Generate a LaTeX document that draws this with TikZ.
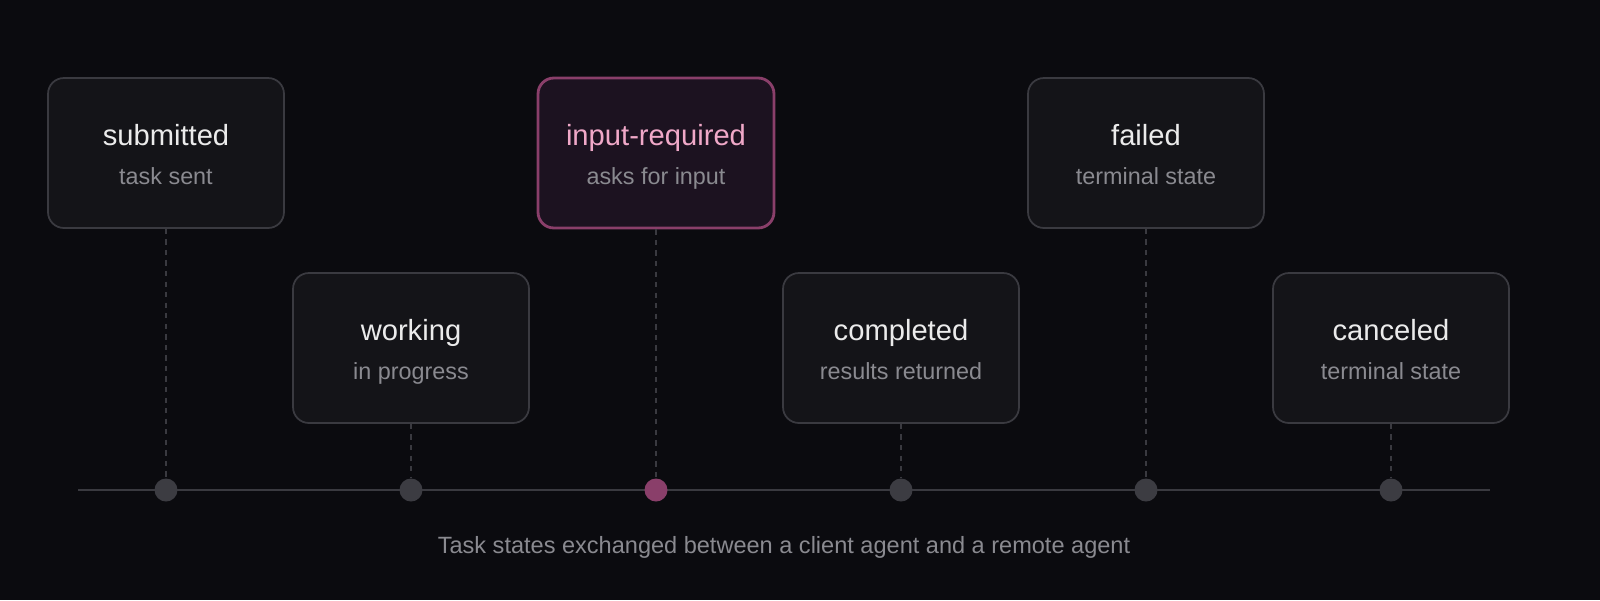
\documentclass[tikz,border=0pt]{standalone}
\usepackage{fontspec}
\setmainfont{Liberation Sans}
\usetikzlibrary{calc}

\definecolor{bg}{HTML}{0B0B0F}
\definecolor{boxfill}{HTML}{141418}
\definecolor{boxline}{HTML}{3A3A40}
\definecolor{hlfill}{HTML}{1C1220}
\definecolor{hlline}{HTML}{8A3F6A}
\definecolor{hltext}{HTML}{F0A8C8}
\definecolor{subtext}{HTML}{8A8A90}
\definecolor{dotgray}{HTML}{3C3C42}

\tikzset{
  state/.style={draw=boxline, line width=1pt, fill=boxfill, rounded corners=9pt,
    minimum width=4.72cm, minimum height=3cm},
  active/.style={state, draw=hlline, line width=1.6pt, fill=hlfill},
  title/.style={anchor=base, text=white!92!black, font=\fontsize{16.6}{18}\selectfont},
  sub/.style={anchor=base, text=subtext, font=\fontsize{13.3}{15}\selectfont},
  stem/.style={draw=boxline, dashed, line width=0.7pt},
  dot/.style={circle, fill=dotgray, minimum size=0.46cm, inner sep=0pt}
}

\begin{document}
\begin{tikzpicture}[x=0.02cm, y=-0.02cm]
  \fill[bg] (0,0) rectangle (1600,600);
  \useasboundingbox (0,0) rectangle (1600,600);

  % timeline
  \coordinate (tl) at (78,490);
  \coordinate (tr) at (1490,490);
  \draw[boxline, line width=1pt] (tl) -- (tr);

  % states
  \foreach \name/\x/\y/\ttl/\txt in {
      submitted/166/153/submitted/task sent,
      working/411/348/working/in progress,
      completed/901/348/completed/results returned,
      failed/1146/153/failed/terminal state,
      canceled/1391/348/canceled/terminal state} {
    \node[state] (\name) at (\x,\y) {};
    \node[dot] (\name-dot) at (\x,490) {};
    \draw[stem] (\name.south) -- (\name-dot.north);
    \node[title] at (\x,\y-8) {\ttl};
    \node[sub] at (\x,\y+31) {\txt};
  }

  \node[active] (input) at (656,153) {};
  \node[dot, fill=hlline] (input-dot) at (656,490) {};
  \draw[stem] (input.south) -- (input-dot.north);
  \node[title, text=hltext] at (656,145) {input-required};
  \node[sub] at (656,184) {asks for input};

  \node[sub, font=\fontsize{13.4}{15}\selectfont] (caption) at (784,553)
    {Task states exchanged between a client agent and a remote agent};
\end{tikzpicture}
\end{document}
